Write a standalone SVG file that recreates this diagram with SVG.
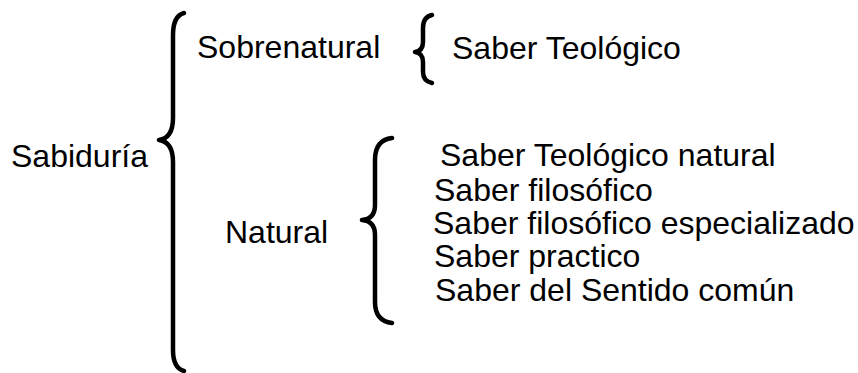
<svg xmlns="http://www.w3.org/2000/svg" width="858" height="373" viewBox="0 0 858 373">
<style>
text { font-family: "Liberation Sans", Arial, sans-serif; font-size: 32px; fill: #000; }
.brace { fill: none; stroke: #000; stroke-width: 4.5; stroke-linecap: round; stroke-linejoin: round; }
</style>
<rect width="858" height="373" fill="#fff"/>
<g id="sabiduria"><text x="11" y="167">Sabiduría</text></g>
<g id="sobrenatural"><text x="197" y="58">Sobrenatural</text></g>
<g id="saber-teologico"><text x="452" y="59">Saber Teológico</text></g>
<g id="natural"><text x="225" y="243">Natural</text></g>
<g id="natural-list">
<text x="440" y="166">Saber Teológico natural</text>
<text x="434" y="201">Saber filosófico</text>
<text x="433" y="234">Saber filosófico especializado</text>
<text x="434" y="267">Saber practico</text>
<text x="435" y="301">Saber del Sentido común</text>
</g>
<g id="connectors">
<path class="brace" d="M184,13 Q173,16 173,35 L173,118 Q173,138 159,140 Q173,142 173,162 L173,350 Q173,368 184,371"/>
<path class="brace" d="M432,15 Q423,17 423,28 L423,42 Q423,51 415,52 Q423,53 423,62 L423,72 Q423,81 432,83"/>
<path class="brace" d="M392,138 Q375,140 375,160 L375,205 Q375,219 362,220 Q375,221 375,235 L375,302 Q375,321 392,323"/>
</g>
</svg>
